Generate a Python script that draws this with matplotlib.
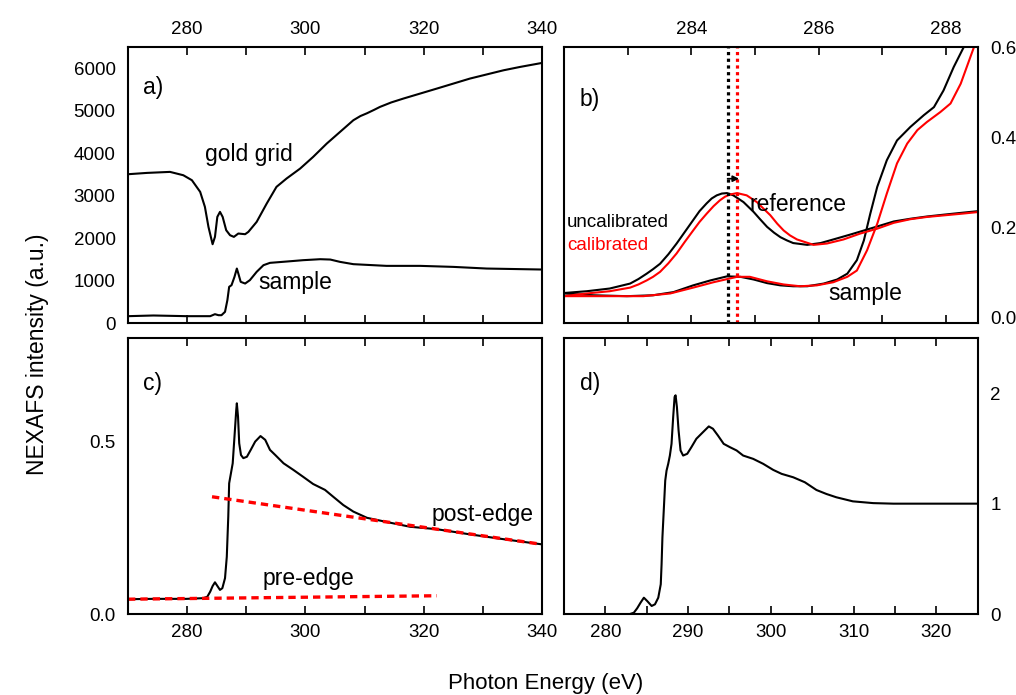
import numpy as np
import matplotlib
matplotlib.use("Agg")
from matplotlib import pyplot as plt
from matplotlib.ticker import MultipleLocator, FixedLocator, FormatStrFormatter

plt.rcParams['font.family'] = ['Liberation Sans', 'DejaVu Sans']

# a) raw intensities: gold grid (I0) and sample
grid_e = [270.0, 273.2, 277.1, 279.35, 280.8, 282.2, 283.0, 283.6, 284.3, 284.7, 285.1, 285.55,
          286.0, 286.6, 287.25, 287.9, 288.65, 289.8, 290.35, 291.75, 293.45, 295.1, 296.8,
          299.1, 301.3, 303.6, 305.85, 308.1, 309.3, 310.4, 311.6, 312.6, 314.5, 316.55,
          322.2, 327.8, 333.5, 336.3, 340.0]
grid_i = [3509, 3540, 3564, 3485, 3368, 3093, 2740, 2269, 1860, 2033, 2504, 2622,
          2504, 2190, 2072, 2033, 2112, 2096, 2151, 2386, 2818, 3211, 3407,
          3642, 3917, 4231, 4506, 4781, 4880, 4945, 5025, 5095, 5200, 5291,
          5526, 5762, 5958, 6037, 6131]

samp_e = [270.0, 274.3, 279.9, 283.9, 284.7, 285.3, 285.8, 286.4, 286.8, 287.1, 287.5, 288.0,
          288.4, 288.65, 289.05, 289.8, 290.6, 291.75, 292.9, 294.0, 296.8, 299.6, 302.5,
          304.2, 305.85, 308.1, 313.7, 319.4, 325.0, 330.65, 340.0]
samp_i = [165, 181, 165, 165, 212, 188, 188, 267, 542, 856, 895, 1091,
          1287, 1170, 974, 934, 1013, 1209, 1366, 1421, 1452, 1484, 1507,
          1499, 1444, 1390, 1350, 1350, 1326, 1287, 1264]

# b) pre-edge region, reference and sample, before / after energy calibration
ref_e = [282.0, 282.36, 282.72, 283.04, 283.17, 283.3, 283.4, 283.51, 283.64, 283.77, 283.9,
         284.03, 284.13, 284.24, 284.32, 284.4, 284.48, 284.56, 284.66, 284.82, 284.98, 285.08,
         285.19, 285.3, 285.4, 285.5, 285.6, 285.82, 286.03, 286.23, 286.5, 286.76,
         286.97, 287.18, 287.44, 287.7, 287.96, 288.23, 288.51]
ref_raw = [0.054, 0.058, 0.064, 0.075, 0.085, 0.097, 0.107, 0.119, 0.140, 0.164, 0.190,
           0.216, 0.236, 0.253, 0.264, 0.271, 0.275, 0.276, 0.271, 0.256, 0.234, 0.218,
           0.201, 0.188, 0.178, 0.171, 0.165, 0.161, 0.165, 0.173, 0.184, 0.195,
           0.204, 0.213, 0.219, 0.224, 0.228, 0.232, 0.236]
refc_e = [282.0, 282.36, 282.72, 283.04, 283.17, 283.3, 283.4, 283.51, 283.64, 283.77, 283.9,
          284.03, 284.13, 284.24, 284.35, 284.45, 284.53, 284.61, 284.72, 284.87, 285.03,
          285.13, 285.24, 285.35, 285.45, 285.55, 285.66, 285.92, 286.13, 286.39, 286.65,
          286.92, 287.18, 287.44, 287.7, 288.23, 288.51]
ref_cal = [0.047, 0.053, 0.058, 0.066, 0.073, 0.082, 0.090, 0.101, 0.120, 0.142, 0.168,
           0.193, 0.212, 0.230, 0.247, 0.260, 0.268, 0.273, 0.276, 0.271, 0.256,
           0.242, 0.227, 0.208, 0.193, 0.182, 0.173, 0.161, 0.164, 0.173, 0.186,
           0.197, 0.210, 0.218, 0.223, 0.230, 0.234]
smp_e = [282.0, 282.46, 282.99, 283.4, 283.72, 284.03, 284.3, 284.56, 284.77, 284.98, 285.19,
         285.4, 285.6, 285.82, 286.08, 286.29, 286.45, 286.6, 286.71, 286.81, 286.92, 287.07,
         287.23, 287.44, 287.65, 287.81, 287.96, 288.12, 288.28]
smp_raw = [0.053, 0.049, 0.047, 0.049, 0.056, 0.071, 0.082, 0.091, 0.090, 0.084, 0.076,
           0.071, 0.069, 0.069, 0.075, 0.084, 0.097, 0.127, 0.171, 0.230, 0.290, 0.349,
           0.393, 0.423, 0.449, 0.467, 0.504, 0.556, 0.601]
smpc_e = [282.0, 282.72, 283.25, 283.67, 284.03, 284.35, 284.72, 284.92, 285.19, 285.45, 285.71,
          285.97, 286.23, 286.45, 286.6, 286.76, 286.92, 287.07, 287.23, 287.39, 287.55, 287.7,
          287.91, 288.07, 288.23, 288.44]
smp_cal = [0.047, 0.047, 0.047, 0.053, 0.066, 0.078, 0.090, 0.090, 0.080, 0.073, 0.069,
           0.071, 0.078, 0.090, 0.104, 0.149, 0.208, 0.275, 0.342, 0.386, 0.416, 0.434,
           0.456, 0.475, 0.519, 0.601]
peak_raw = 284.57
peak_cal = 284.72

# c) I/I0 with pre- and post-edge fits
c_e = [270.06, 274.3, 279.9, 282.7, 283.4, 283.9, 284.3, 284.7, 285.2, 285.55, 285.95, 286.4,
       286.7, 286.95, 287.1, 287.4, 287.7, 288.0, 288.3, 288.4, 288.6, 288.8, 289.1, 289.5,
       290.1, 290.75, 291.5, 292.4, 293.2, 294.0, 294.9, 296.3, 297.95, 299.6, 301.3, 303.3,
       304.7, 306.4, 308.1, 310.4, 313.7, 317.7, 322.2, 327.8, 333.5, 340.0]
c_i = [0.043, 0.044, 0.044, 0.046, 0.050, 0.065, 0.081, 0.092, 0.079, 0.070, 0.075, 0.104,
       0.166, 0.282, 0.379, 0.408, 0.437, 0.514, 0.592, 0.611, 0.572, 0.495, 0.461, 0.452,
       0.456, 0.476, 0.500, 0.516, 0.505, 0.476, 0.461, 0.437, 0.418, 0.398, 0.377, 0.360,
       0.340, 0.316, 0.297, 0.279, 0.267, 0.253, 0.246, 0.231, 0.217, 0.202]
pre_e = [270.0, 322.2]
pre_i = [0.043, 0.053]
post_e = [284.2, 340.0]
post_i = [0.340, 0.202]

# d) normalised spectrum
d_e = [281.7, 282.97, 283.45, 283.85, 284.26, 284.66, 285.06, 285.6, 286.0, 286.4, 286.7,
       286.8, 286.9, 287.08, 287.24, 287.4, 287.6, 287.8, 288.0, 288.2, 288.37, 288.49,
       288.65, 288.85, 289.09, 289.4, 289.9, 290.4, 291.0, 291.8, 292.5, 293.0, 293.6,
       294.3, 295.05, 295.86, 296.65, 297.86, 299.07, 300.28, 301.3, 302.7, 304.1, 305.5,
       306.7, 307.9, 309.9, 312.35, 314.8, 316.8, 325.0]
d_i = [0.0, 0.0, 0.012, 0.052, 0.103, 0.148, 0.118, 0.073, 0.088, 0.148, 0.270,
       0.452, 0.694, 0.966, 1.209, 1.300, 1.361, 1.436, 1.542, 1.785, 1.967, 1.982,
       1.876, 1.664, 1.482, 1.436, 1.452, 1.512, 1.588, 1.648, 1.700, 1.679, 1.618,
       1.542, 1.512, 1.482, 1.436, 1.406, 1.361, 1.306, 1.270, 1.239, 1.194, 1.124,
       1.088, 1.058, 1.021, 1.005, 1.0, 1.0, 1.0]

RED = '#ff0000'
fs_tick = 13.5
fs_txt = 16.5

fig = plt.figure(figsize=(10.16, 6.95), dpi=100)
w, h = 0.4075, 0.397
ax_a = fig.add_axes([0.126, 0.535, w, h])
ax_b = fig.add_axes([0.555, 0.535, w, h])
ax_c = fig.add_axes([0.126, 0.1165, w, h])
ax_d = fig.add_axes([0.555, 0.1165, w, h])


def style(ax, major, minor, xtop, yright):
    for s in ax.spines.values():
        s.set_linewidth(1.5)
    ax.xaxis.set_major_locator(major)
    ax.xaxis.set_minor_locator(MultipleLocator(minor))
    ax.tick_params(axis='x', which='both', direction='in', top=True, bottom=True,
                   length=6, width=1.2, labelsize=fs_tick, pad=7,
                   labeltop=xtop, labelbottom=not xtop)
    ax.tick_params(axis='y', which='both', length=0, labelsize=fs_tick, pad=9,
                   left=False, right=False, labelleft=not yright, labelright=yright)


# a)
ax_a.plot(grid_e, grid_i, color='black', lw=1.5)
ax_a.plot(samp_e, samp_i, color='black', lw=1.5)
ax_a.set_xlim(270, 340)
ax_a.set_ylim(0, 6500)
ax_a.set_yticks([0, 1000, 2000, 3000, 4000, 5000, 6000])
style(ax_a, FixedLocator([280, 300, 320, 340]), 10, True, False)
ax_a.text(0.036, 0.853, 'a)', transform=ax_a.transAxes, fontsize=fs_txt, va='center')
ax_a.text(0.186, 0.612, 'gold grid', transform=ax_a.transAxes, fontsize=fs_txt, va='center')
ax_a.text(0.314, 0.149, 'sample', transform=ax_a.transAxes, fontsize=fs_txt, va='center')

# b)
ax_b.plot(ref_e, ref_raw, color='black', lw=1.5)
ax_b.plot(smp_e, smp_raw, color='black', lw=1.5)
ax_b.plot(refc_e, ref_cal, color=RED, lw=1.5)
ax_b.plot(smpc_e, smp_cal, color=RED, lw=1.5)
ax_b.axvline(peak_raw, color='black', lw=2.3, linestyle=(0, (1, 1.1)))
ax_b.axvline(peak_cal, color=RED, lw=2.3, linestyle=(0, (1, 1.1)))
ax_b.annotate('', xy=(peak_cal + 0.03, 0.308), xytext=(peak_raw, 0.308),
              arrowprops=dict(arrowstyle='-|>', color='black', lw=1.2,
                              mutation_scale=9, shrinkA=0, shrinkB=0))
ax_b.set_xlim(282, 288.5)
ax_b.set_ylim(-0.013, 0.6)
ax_b.set_yticks([0.0, 0.2, 0.4, 0.6])
ax_b.yaxis.set_major_formatter(FormatStrFormatter('%.1f'))
style(ax_b, FixedLocator([284, 286, 288]), 1, True, True)
ax_b.text(0.039, 0.812, 'b)', transform=ax_b.transAxes, fontsize=fs_txt, va='center')
ax_b.text(0.449, 0.431, 'reference', transform=ax_b.transAxes, fontsize=fs_txt, va='center')
ax_b.text(0.64, 0.109, 'sample', transform=ax_b.transAxes, fontsize=fs_txt, va='center')
ax_b.text(0.007, 0.366, 'uncalibrated', transform=ax_b.transAxes, fontsize=13.5, va='center')
ax_b.text(0.007, 0.283, 'calibrated', transform=ax_b.transAxes, fontsize=13.5, va='center',
          color=RED)

# c)
ax_c.plot(c_e, c_i, color='black', lw=1.5)
ax_c.plot(pre_e, pre_i, color=RED, lw=2.4, linestyle=(0, (2.2, 1.5)))
ax_c.plot(post_e, post_i, color=RED, lw=2.4, linestyle=(0, (2.2, 1.5)))
ax_c.set_xlim(270, 340)
ax_c.set_ylim(0, 0.8)
ax_c.set_yticks([0.0, 0.5])
ax_c.yaxis.set_major_formatter(FormatStrFormatter('%.1f'))
style(ax_c, MultipleLocator(20), 10, False, False)
ax_c.text(0.036, 0.837, 'c)', transform=ax_c.transAxes, fontsize=fs_txt, va='center')
ax_c.text(0.734, 0.362, 'post-edge', transform=ax_c.transAxes, fontsize=fs_txt, va='center')
ax_c.text(0.326, 0.13, 'pre-edge', transform=ax_c.transAxes, fontsize=fs_txt, va='center')

# d)
ax_d.plot(d_e, d_i, color='black', lw=1.5)
ax_d.set_xlim(275, 325)
ax_d.set_ylim(0, 2.5)
ax_d.set_yticks([0, 1, 2])
style(ax_d, MultipleLocator(10), 5, False, True)
ax_d.text(0.039, 0.837, 'd)', transform=ax_d.transAxes, fontsize=fs_txt, va='center')

fig.text(0.037, 0.49, 'NEXAFS intensity (a.u.)', rotation=90, fontsize=16.5,
         ha='center', va='center')
fig.text(0.537, 0.017, 'Photon Energy (eV)', fontsize=16, ha='center', va='center')

fig.savefig('out.png', dpi=100)
